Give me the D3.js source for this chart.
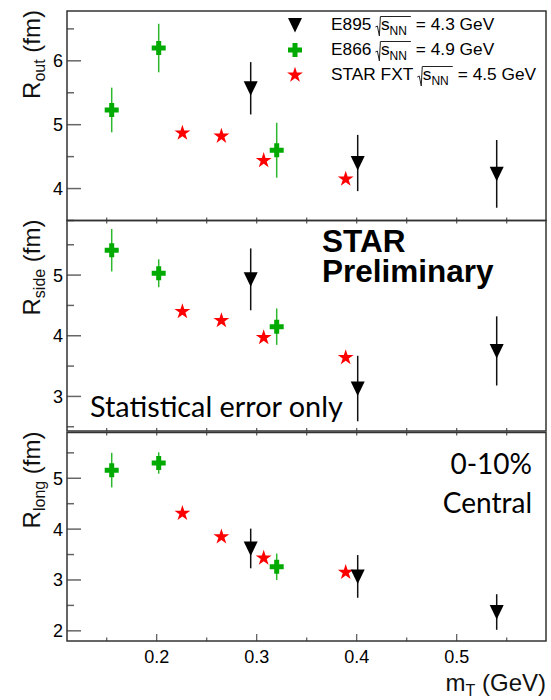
<!DOCTYPE html>
<html><head><meta charset="utf-8">
<script src="https://cdn.jsdelivr.net/npm/d3@7"></script>
<style>body{margin:0;background:#fff}svg{display:block}</style>
</head><body><svg id="c" width="551" height="700"></svg>
<script>
// ---------- data ----------
const mT_E895 = [0.294, 0.401, 0.540];
const mT_E866 = [0.155, 0.202, 0.320];
const mT_STAR = [0.2257, 0.2647, 0.307, 0.389];

const Rout_E895 = [5.57, 4.40, 4.23];
const Rout_E895_err = [0.41, 0.44, 0.53];
const Rout_E866 = [5.23, 6.20, 4.60];
const Rout_E866_err = [0.35, 0.38, 0.43];
const Rout_STAR = [4.87, 4.82, 4.44, 4.15];

const Rside_E895 = [4.93, 3.13, 3.75];
const Rside_E895_err = [0.51, 0.54, 0.57];
const Rside_E866 = [5.41, 5.03, 4.15];
const Rside_E866_err = [0.35, 0.23, 0.30];
const Rside_STAR = [4.40, 4.25, 3.97, 3.64];

const Rlong_E895 = [3.62, 3.07, 2.37];
const Rlong_E895_err = [0.39, 0.42, 0.35];
const Rlong_E866 = [5.16, 5.30, 3.26];
const Rlong_E866_err = [0.34, 0.21, 0.26];
const Rlong_STAR = [4.31, 3.85, 3.43, 3.15];

const xTicks = [0.2, 0.3, 0.4, 0.5];
const xMinorTicks = [0.15, 0.25, 0.35, 0.45, 0.55];
const yTicksOut = [4, 5, 6];
const yTicksSide = [3, 4, 5];
const yTicksLong = [2, 3, 4, 5];

const legendLabels = ["E895", "E866", "STAR FXT"];
const legendEnergies = ["4.3 GeV", "4.9 GeV", "4.5 GeV"];

// ---------- layout ----------
const svg = d3.select("#c");
const L = 67, R = 546;
const x = d3.scaleLinear().domain([0.1103, 0.5893]).range([L, R]);
const FONT = "'Liberation Sans', Arial, Helvetica, sans-serif";
const GREEN = "#00aa00", GREEN_ERR = "#2db82d";

const panels = [
  {sub: "out", top: 11, bot: 220.5, dom: [3.5, 6.78], ticks: yTicksOut,
   e895: Rout_E895, e895e: Rout_E895_err, e866: Rout_E866, e866e: Rout_E866_err, star: Rout_STAR},
  {sub: "side", top: 220.5, bot: 431, dom: [2.43, 5.9], ticks: yTicksSide,
   e895: Rside_E895, e895e: Rside_E895_err, e866: Rside_E866, e866e: Rside_E866_err, star: Rside_STAR},
  {sub: "long", top: 432.5, bot: 641, dom: [1.8, 5.9], ticks: yTicksLong,
   e895: Rlong_E895, e895e: Rlong_E895_err, e866: Rlong_E866, e866e: Rlong_E866_err, star: Rlong_STAR}
];

const triPath = "M-7,-7L7,-7L0,7.5Z";
const crossPath = "M-2.5,-7L2.5,-7L2.5,-2.5L7,-2.5L7,2.5L2.5,2.5L2.5,7L-2.5,7L-2.5,2.5L-7,2.5L-7,-2.5L-2.5,-2.5Z";
const starPath = d3.symbol(d3.symbolStar, 78)();

panels.forEach((p, pi) => {
  const y = d3.scaleLinear().domain(p.dom).range([p.bot, p.top]);
  const g = svg.append("g");
  const isBottom = pi === 2;

  // y ticks (inside, left)
  const minor = [];
  for (let v = Math.ceil(p.dom[0] * 2) / 2; v <= p.dom[1]; v += 0.5) if (v % 1 !== 0) minor.push(v);
  g.selectAll(".ymaj").data(p.ticks).join("line")
    .attr("x1", L).attr("x2", L + 14).attr("y1", d => y(d)).attr("y2", d => y(d))
    .attr("stroke", "#666").attr("stroke-width", 1.5);
  g.selectAll(".ymin").data(minor).join("line")
    .attr("x1", L).attr("x2", L + 7).attr("y1", d => y(d)).attr("y2", d => y(d))
    .attr("stroke", "#666").attr("stroke-width", 1.5);
  g.selectAll(".ylab").data(p.ticks).join("text")
    .attr("x", L - 4).attr("y", d => y(d)).attr("dy", "0.36em")
    .attr("text-anchor", "end").attr("font-family", FONT).attr("font-size", 18)
    .text(d => d);

  // x ticks on panel edges
  const allX = xTicks.concat(xMinorTicks);
  if (isBottom) {
    g.selectAll(".xmaj").data(xTicks).join("line")
      .attr("x1", d => x(d)).attr("x2", d => x(d)).attr("y1", p.bot).attr("y2", p.bot - 7)
      .attr("stroke", "#555").attr("stroke-width", 1.2);
    g.selectAll(".xmin").data(xMinorTicks).join("line")
      .attr("x1", d => x(d)).attr("x2", d => x(d)).attr("y1", p.bot).attr("y2", p.bot - 3.5)
      .attr("stroke", "#555").attr("stroke-width", 1.2);
  } else {
    g.selectAll(".xb").data(allX).join("line")
      .attr("x1", d => x(d)).attr("x2", d => x(d)).attr("y1", p.bot).attr("y2", p.bot - 3)
      .attr("stroke", "#555").attr("stroke-width", 1.2);
  }
  if (pi > 0) {
    g.selectAll(".xt").data(allX).join("line")
      .attr("x1", d => x(d)).attr("x2", d => x(d)).attr("y1", p.top).attr("y2", p.top + 3)
      .attr("stroke", "#555").attr("stroke-width", 1.2);
  }

  // frame
  g.append("rect").attr("x", L).attr("y", p.top).attr("width", R - L).attr("height", p.bot - p.top)
    .attr("fill", "none").attr("stroke", "#333").attr("stroke-width", 1.5);

  // y title
  const t = g.append("text").attr("transform", `translate(40,${p.top - 1}) rotate(-90)`)
    .attr("text-anchor", "end").attr("font-family", FONT).attr("font-size", 24).attr("fill", "#111");
  t.append("tspan").text("R");
  t.append("tspan").attr("font-size", 16).attr("dy", 5).text(p.sub);
  t.append("tspan").attr("dy", -5).text(" (fm)");

  // error bars
  g.selectAll(".e866err").data(mT_E866.map((m, i) => [m, p.e866[i], p.e866e[i]])).join("line")
    .attr("x1", d => x(d[0])).attr("x2", d => x(d[0]))
    .attr("y1", d => y(d[1] - d[2])).attr("y2", d => y(d[1] + d[2]))
    .attr("stroke", GREEN_ERR).attr("stroke-width", 1.5);
  g.selectAll(".e895err").data(mT_E895.map((m, i) => [m, p.e895[i], p.e895e[i]])).join("line")
    .attr("x1", d => x(d[0])).attr("x2", d => x(d[0]))
    .attr("y1", d => y(d[1] - d[2])).attr("y2", d => y(d[1] + d[2]))
    .attr("stroke", "#111").attr("stroke-width", 1.5);

  // markers
  g.selectAll(".star").data(mT_STAR.map((m, i) => [m, p.star[i]])).join("path")
    .attr("d", starPath).attr("transform", d => `translate(${x(d[0])},${y(d[1])})`)
    .attr("fill", "#ff0000");
  g.selectAll(".e866").data(mT_E866.map((m, i) => [m, p.e866[i]])).join("path")
    .attr("d", crossPath).attr("transform", d => `translate(${x(d[0])},${y(d[1])})`)
    .attr("fill", GREEN);
  g.selectAll(".e895").data(mT_E895.map((m, i) => [m, p.e895[i]])).join("path")
    .attr("d", triPath).attr("transform", d => `translate(${x(d[0])},${y(d[1])})`)
    .attr("fill", "#000");
});

// x tick labels and title
svg.selectAll(".xlab").data(xTicks).join("text")
  .attr("x", d => x(d)).attr("y", 663).attr("text-anchor", "middle")
  .attr("font-family", FONT).attr("font-size", 18).text(d => d3.format(".1f")(d));
const xt = svg.append("text").attr("x", 546).attr("y", 691).attr("text-anchor", "end")
  .attr("font-family", FONT).attr("font-size", 24).attr("fill", "#111");
xt.append("tspan").text("m");
xt.append("tspan").attr("font-size", 16).attr("dy", 5).text("T");
xt.append("tspan").attr("dy", -5).text(" (GeV)");

// legend
const LFS = 17.3;
const legMarkers = [triPath, crossPath, starPath];
const legColors = ["#000", GREEN, "#ff0000"];
const legY = [30, 55, 80];
legendLabels.forEach((lab, i) => {
  const b = legY[i];
  svg.append("path").attr("d", legMarkers[i]).attr("transform", `translate(295,${b - 5})`).attr("fill", legColors[i]);
  const t1 = svg.append("text").attr("x", 331).attr("y", b).attr("font-family", FONT).attr("font-size", LFS).text(lab);
  const rx = 331 + t1.node().getComputedTextLength() + 4;
  const cx = rx + 5.5;
  const t2 = svg.append("text").attr("x", cx).attr("y", b).attr("font-family", FONT).attr("font-size", LFS);
  t2.append("tspan").text("s");
  t2.append("tspan").attr("font-size", 12).attr("dy", 5).text("NN");
  const w2 = t2.node().getComputedTextLength();
  svg.append("path")
    .attr("d", `M${rx},${b - 3}L${rx + 2},${b - 4}L${rx + 4},${b + 6}L${rx + 5},${b - 13.5}L${cx + w2 + 4},${b - 13.5}`)
    .attr("fill", "none").attr("stroke", "#222").attr("stroke-width", 1);
  svg.append("text").attr("x", cx + w2 + 9).attr("y", b).attr("font-family", FONT).attr("font-size", LFS)
    .text("= " + legendEnergies[i]);
});

// annotations
svg.append("text").attr("x", 322).attr("y", 252).attr("font-family", FONT).attr("font-weight", "bold")
  .attr("font-size", 31.5).text("STAR");
svg.append("text").attr("x", 322).attr("y", 282).attr("font-family", FONT).attr("font-weight", "bold")
  .attr("font-size", 31.5).text("Preliminary");
const CAL = "Lato, 'Open Sans', sans-serif";
svg.append("text").attr("x", 90).attr("y", 417).attr("font-family", CAL).attr("font-size", 28.8).text("Statistical error only");
svg.append("text").attr("x", 532).attr("y", 474).attr("text-anchor", "end").attr("font-family", CAL).attr("font-size", 28).text("0-10%");
svg.append("text").attr("x", 532).attr("y", 513).attr("text-anchor", "end").attr("font-family", CAL).attr("font-size", 28).text("Central");
</script></body></html>
